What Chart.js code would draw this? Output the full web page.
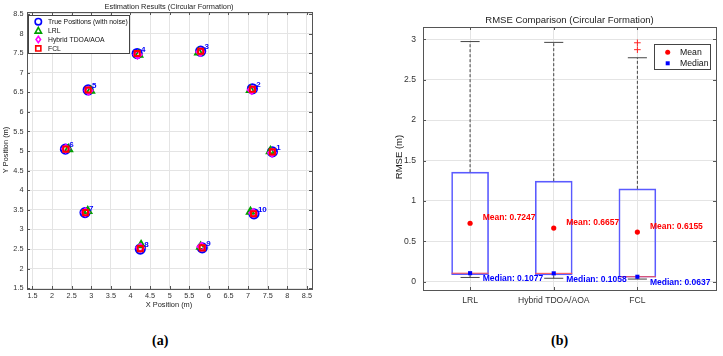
<!DOCTYPE html>
<html>
<head>
<meta charset="utf-8">
<script src="https://cdn.jsdelivr.net/npm/chart.js@4.4.1/dist/chart.umd.min.js"></script>
<style>
body { margin: 0; background: #fff; width: 723px; height: 356px; position: relative; overflow: hidden; }
#c1 { position: absolute; left: 0; top: 0; }
#c2 { position: absolute; left: 380px; top: 0; }
.cap { position: absolute; font-family: "Liberation Serif", "DejaVu Serif", serif; font-weight: bold; font-size: 14px; color: #000; }
</style>
</head>
<body>
<canvas id="c1" width="330" height="320"></canvas>
<canvas id="c2" width="343" height="320"></canvas>
<div class="cap" style="left:152px;top:333px">(a)</div>
<div class="cap" style="left:551px;top:333px">(b)</div>
<script>
// (a) estimated positions per node
const nodeIds = ['1', '2', '3', '4', '5', '6', '7', '8', '9', '10'];
const trueX = [7.62, 7.11, 5.79, 4.17, 2.92, 2.34, 2.84, 4.25, 5.83, 7.15];
const trueY = [4.98, 6.59, 7.55, 7.49, 6.56, 5.05, 3.43, 2.50, 2.53, 3.40];
const lrlX = [7.57, 7.06, 5.74, 4.21, 2.98, 2.42, 2.91, 4.27, 5.79, 7.06];
const lrlY = [5.00, 6.56, 7.52, 7.46, 6.54, 5.05, 3.47, 2.60, 2.56, 3.45];
const hybX = [7.61, 7.09, 5.78, 4.18, 2.93, 2.35, 2.85, 4.25, 5.81, 7.13];
const hybY = [4.96, 6.56, 7.53, 7.46, 6.54, 5.06, 3.44, 2.53, 2.56, 3.42];
const fclX = [7.62, 7.11, 5.79, 4.17, 2.92, 2.35, 2.85, 4.25, 5.83, 7.14];
const fclY = [4.98, 6.58, 7.55, 7.49, 6.56, 5.05, 3.43, 2.51, 2.53, 3.40];
const posTicks = [1.5, 2, 2.5, 3, 3.5, 4, 4.5, 5, 5.5, 6, 6.5, 7, 7.5, 8, 8.5];

// (b) RMSE box plot
const methods = ['LRL', 'Hybrid TDOA/AOA', 'FCL'];
const rmseQ1 = [0.09, 0.085, 0.058];
const rmseQ3 = [1.356, 1.245, 1.15];
const rmseMedian = [0.1077, 0.1058, 0.0637];
const rmseMean = [0.7247, 0.6657, 0.6155];
const whiskerLo = [0.055, 0.045, 0.035];
const whiskerHi = [2.97, 2.96, 2.77];
const outliersFCL = [2.87, 2.955];
const rmseTicks = [0, 0.5, 1, 1.5, 2, 2.5, 3];

Chart.defaults.font.family = '"Liberation Sans", Arial, sans-serif';
Chart.defaults.color = '#333';

const pts = (xs, ys) => xs.map((x, i) => ({ x: x, y: ys[i] }));

// MATLAB-like box around the axes with inward ticks
const framePlugin = {
  id: 'frame',
  afterDatasetsDraw(chart) {
    const { ctx, chartArea: a, scales } = chart;
    ctx.save();
    ctx.strokeStyle = '#555';
    ctx.lineWidth = 1;
    ctx.strokeRect(Math.round(a.left) + 0.5, Math.round(a.top) + 0.5, Math.round(a.right - a.left), Math.round(a.bottom - a.top));
    ctx.beginPath();
    scales.x.ticks.forEach(t => {
      const px = Math.round(scales.x.getPixelForValue(t.value)) + 0.5;
      ctx.moveTo(px, a.bottom); ctx.lineTo(px, a.bottom - 3);
      ctx.moveTo(px, a.top); ctx.lineTo(px, a.top + 3);
    });
    scales.y.ticks.forEach(t => {
      const py = Math.round(scales.y.getPixelForValue(t.value)) + 0.5;
      ctx.moveTo(a.left, py); ctx.lineTo(a.left + 3, py);
      ctx.moveTo(a.right, py); ctx.lineTo(a.right - 3, py);
    });
    ctx.stroke();
    ctx.restore();
  }
};

function drawMarker(ctx, style, x, y, r, color) {
  ctx.strokeStyle = color;
  ctx.fillStyle = color;
  ctx.beginPath();
  if (style === 'circle') {
    ctx.arc(x, y, r, 0, Math.PI * 2);
  } else if (style === 'triangle') {
    ctx.moveTo(x, y - r); ctx.lineTo(x + r, y + r * 0.8); ctx.lineTo(x - r, y + r * 0.8); ctx.closePath();
  } else if (style === 'rectRot') {
    ctx.moveTo(x, y - r); ctx.lineTo(x + r * 0.7, y); ctx.lineTo(x, y + r); ctx.lineTo(x - r * 0.7, y); ctx.closePath();
  } else {
    ctx.rect(x - r * 0.8, y - r * 0.8, r * 1.6, r * 1.6);
  }
  ctx.stroke();
}

const leftText = {
  id: 'leftText',
  afterDraw(chart) {
    const { ctx, scales } = chart;
    ctx.save();
    // node numbers
    ctx.fillStyle = '#0000ff';
    ctx.font = 'bold 8px "Liberation Sans", Arial, sans-serif';
    ctx.textAlign = 'left';
    ctx.textBaseline = 'middle';
    nodeIds.forEach((id, i) => {
      ctx.fillText(id, scales.x.getPixelForValue(trueX[i] + 0.1), scales.y.getPixelForValue(trueY[i] + 0.1));
    });
    // titles
    ctx.fillStyle = '#222';
    ctx.textAlign = 'center';
    ctx.font = '7.4px "Liberation Sans", Arial, sans-serif';
    ctx.fillText('Estimation Results (Circular Formation)', 169, 6.5);
    ctx.fillText('X Position (m)', 169, 305);
    ctx.translate(6, 150);
    ctx.rotate(-Math.PI / 2);
    ctx.fillText('Y Position (m)', 0, 0);
    ctx.restore();

    // legend
    ctx.save();
    ctx.fillStyle = '#fff';
    ctx.fillRect(28.5, 15.5, 101, 38);
    ctx.strokeStyle = '#444';
    ctx.lineWidth = 1;
    ctx.strokeRect(28.5, 15.5, 101, 38);
    const items = [
      ['circle', '#0000ff', 'True Positions (with noise)'],
      ['triangle', '#00a000', 'LRL'],
      ['rectRot', '#ff00ff', 'Hybrid TDOA/AOA'],
      ['rect', '#ff0000', 'FCL']
    ];
    ctx.font = '6.8px "Liberation Sans", Arial, sans-serif';
    ctx.textBaseline = 'middle';
    items.forEach((it, i) => {
      const y = 21.7 + i * 8.9;
      ctx.lineWidth = 1.6;
      drawMarker(ctx, it[0], 38.3, y, 3.2, it[1]);
      ctx.fillStyle = '#111';
      ctx.fillText(it[2], 48, y + 0.3);
    });
    ctx.restore();
  }
};

new Chart(document.getElementById('c1'), {
  type: 'scatter',
  data: {
    datasets: [
      { label: 'True Positions (with noise)', data: pts(trueX, trueY), pointStyle: 'circle', pointRadius: 4.6, borderColor: '#0000ff', backgroundColor: 'rgba(0,0,0,0)', borderWidth: 2, order: 4 },
      { label: 'LRL', data: pts(lrlX, lrlY), pointStyle: 'triangle', pointRadius: 4.3, borderColor: '#00a000', backgroundColor: 'rgba(0,0,0,0)', borderWidth: 1.8, order: 3 },
      { label: 'Hybrid TDOA/AOA', data: pts(hybX, hybY), pointStyle: 'rectRot', pointRadius: 4, borderColor: '#ff00ff', backgroundColor: 'rgba(0,0,0,0)', borderWidth: 1.8, order: 2 },
      { label: 'FCL', data: pts(fclX, fclY), pointStyle: 'rect', pointRadius: 3.6, borderColor: '#ff0000', backgroundColor: 'rgba(0,0,0,0)', borderWidth: 2, order: 1 }
    ]
  },
  options: {
    responsive: false,
    animation: false,
    layout: { padding: { left: 0, top: 12, right: 18, bottom: 0 } },
    plugins: { legend: { display: false }, tooltip: { enabled: false } },
    scales: {
      x: {
        type: 'linear', min: 1.36, max: 8.63,
        afterBuildTicks: s => { s.ticks = posTicks.map(v => ({ value: v })); },
        afterFit: s => { s.height = 31; },
        grid: { color: '#e4e4e4', drawTicks: false },
        border: { display: false },
        ticks: { padding: 3, font: { size: 7.3 }, color: '#333', maxRotation: 0, callback: v => String(v) }
      },
      y: {
        type: 'linear', min: 1.48, max: 8.55,
        afterBuildTicks: s => { s.ticks = posTicks.map(v => ({ value: v })); },
        afterFit: s => { s.width = 27; },
        grid: { color: '#e4e4e4', drawTicks: false },
        border: { display: false },
        ticks: { padding: 3.5, font: { size: 7.3 }, color: '#333', callback: v => String(v) }
      }
    }
  },
  plugins: [framePlugin, leftText]
});

const rightText = {
  id: 'rightText',
  afterDraw(chart) {
    const { ctx, scales } = chart;
    ctx.save();
    ctx.textAlign = 'left';
    ctx.textBaseline = 'middle';
    ctx.font = 'bold 8.5px "Liberation Sans", Arial, sans-serif';
    methods.forEach((m, i) => {
      const px = scales.x.getPixelForValue(i + 1 + 0.15);
      ctx.fillStyle = '#ff0000';
      ctx.fillText('Mean: ' + rmseMean[i].toFixed(4), px, scales.y.getPixelForValue(rmseMean[i] + 0.065));
      ctx.fillStyle = '#0000ff';
      ctx.fillText('Median: ' + rmseMedian[i].toFixed(4), px, scales.y.getPixelForValue(rmseMedian[i] - 0.072));
    });
    // titles
    ctx.fillStyle = '#222';
    ctx.textAlign = 'center';
    ctx.font = '9.5px "Liberation Sans", Arial, sans-serif';
    ctx.fillText('RMSE Comparison (Circular Formation)', 189.5, 20.5);
    ctx.translate(19, 157);
    ctx.rotate(-Math.PI / 2);
    ctx.fillText('RMSE (m)', 0, 0);
    ctx.restore();

    // legend
    ctx.save();
    ctx.fillStyle = '#fff';
    ctx.fillRect(274.5, 44.5, 56, 25);
    ctx.strokeStyle = '#444';
    ctx.lineWidth = 1;
    ctx.strokeRect(274.5, 44.5, 56, 25);
    ctx.fillStyle = '#ff0000';
    ctx.beginPath(); ctx.arc(287.7, 52.3, 2.5, 0, Math.PI * 2); ctx.fill();
    ctx.fillStyle = '#0000ff';
    ctx.fillRect(285.7, 61.3, 4, 4);
    ctx.fillStyle = '#111';
    ctx.font = '8.7px "Liberation Sans", Arial, sans-serif';
    ctx.textBaseline = 'middle';
    ctx.fillText('Mean', 300, 52.5);
    ctx.fillText('Median', 300, 63.5);
    ctx.restore();
  }
};

const boxHalf = 0.222;
const capHalf = 0.114;
const whiskerData = [];
const capData = [];
const medianLineData = [];
methods.forEach((m, i) => {
  const x = i + 1;
  whiskerData.push({ x: x, y: rmseQ3[i] }, { x: x, y: whiskerHi[i] }, { x: x, y: null },
                   { x: x, y: whiskerLo[i] }, { x: x, y: rmseQ1[i] }, { x: x, y: null });
  capData.push({ x: x - capHalf, y: whiskerHi[i] }, { x: x + capHalf, y: whiskerHi[i] }, { x: x, y: null },
               { x: x - capHalf, y: whiskerLo[i] }, { x: x + capHalf, y: whiskerLo[i] }, { x: x, y: null });
  medianLineData.push({ x: x - boxHalf, y: rmseMedian[i] }, { x: x + boxHalf, y: rmseMedian[i] }, { x: x, y: null });
});

new Chart(document.getElementById('c2'), {
  type: 'bar',
  data: {
    datasets: [
      { type: 'line', data: pts(rmseMean.map((v, i) => i + 1), rmseMean), showLine: false, pointStyle: 'circle', pointRadius: 2.6, backgroundColor: '#ff0000', borderColor: '#ff0000', borderWidth: 0, order: 1 },
      { type: 'line', data: pts(rmseMedian.map((v, i) => i + 1), rmseMedian), showLine: false, pointStyle: 'rect', pointRadius: 2.9, backgroundColor: '#0000ff', borderColor: '#0000ff', borderWidth: 0, order: 2 },
      { type: 'line', data: outliersFCL.map(v => ({ x: 3, y: v })), showLine: false, pointStyle: 'cross', pointRadius: 3.3, borderColor: '#ff2020', borderWidth: 1, order: 3 },
      { type: 'line', data: medianLineData, borderColor: '#ff5050', borderWidth: 1, pointRadius: 0, spanGaps: false, fill: false, order: 4 },
      { type: 'line', data: capData, borderColor: '#444', borderWidth: 1, pointRadius: 0, spanGaps: false, fill: false, order: 5 },
      { type: 'line', data: whiskerData, borderColor: '#444', borderWidth: 1, borderDash: [3, 2], pointRadius: 0, spanGaps: false, fill: false, order: 6 },
      { type: 'bar', data: methods.map((m, i) => ({ x: i + 1, y: [rmseQ1[i], rmseQ3[i]] })), backgroundColor: 'rgba(0,0,0,0)', borderColor: '#5a5aff', borderWidth: 1, borderSkipped: false, barThickness: 37, order: 7 }
    ]
  },
  options: {
    responsive: false,
    animation: false,
    layout: { padding: { left: 0, top: 27, right: 7, bottom: 0 } },
    plugins: { legend: { display: false }, tooltip: { enabled: false } },
    scales: {
      x: {
        type: 'linear', min: 0.437, max: 3.94, offset: false,
        afterBuildTicks: s => { s.ticks = methods.map((m, i) => ({ value: i + 1 })); },
        afterFit: s => { s.height = 30; },
        grid: { color: '#e4e4e4', drawTicks: false, offset: false },
        border: { display: false },
        ticks: { padding: 5, font: { size: 8.6 }, color: '#333', maxRotation: 0, autoSkip: false, callback: (v) => methods[Math.round(v) - 1] }
      },
      y: {
        type: 'linear', min: -0.1, max: 3.15,
        afterBuildTicks: s => { s.ticks = rmseTicks.map(v => ({ value: v })); },
        afterFit: s => { s.width = 43; },
        grid: { color: '#e4e4e4', drawTicks: false },
        border: { display: false },
        ticks: { padding: 7, font: { size: 8.6 }, color: '#333', callback: v => String(v) }
      }
    }
  },
  plugins: [framePlugin, rightText]
});
</script>
</body>
</html>
